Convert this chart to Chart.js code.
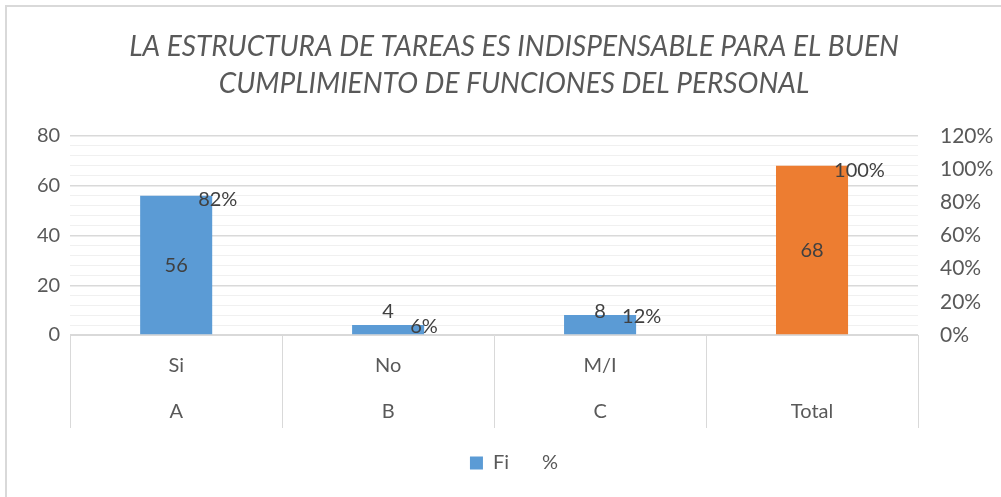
<!DOCTYPE html>
<html>
<head>
<meta charset="utf-8">
<script src="https://cdn.jsdelivr.net/npm/chart.js@4/dist/chart.umd.min.js"></script>
<style>
  html, body { margin: 0; padding: 0; background: #fff; }
  #wrap { position: relative; width: 1001px; height: 497px; }
</style>
</head>
<body>
<div id="wrap"><canvas id="chart" width="1001" height="497"></canvas></div>
<script>
'use strict';

const titleLines = ['LA ESTRUCTURA DE TAREAS ES INDISPENSABLE PARA EL BUEN', 'CUMPLIMIENTO DE FUNCIONES DEL PERSONAL'];
const answers = ['Si', 'No', 'M/I', ''];
const groups = ['A', 'B', 'C', 'Total'];
const fi = [56, 4, 8, 68];
const pct = [0.82, 0.06, 0.12, 1.00];
const leftTicks = [0, 20, 40, 60, 80];
const rightTicks = [0, 0.2, 0.4, 0.6, 0.8, 1.0, 1.2];

const BLUE = '#5B9BD5';
const ORANGE = '#ED7D31';
const TEXT = '#595959';
const FONT = 'Lato';

// outer chart border (only top and left show in the picture)
const frame = {
  id: 'frame',
  beforeDraw(chart) {
    const ctx = chart.ctx;
    ctx.save();
    ctx.strokeStyle = '#d9d9d9';
    ctx.lineWidth = 2;
    ctx.beginPath();
    ctx.moveTo(6, chart.height);
    ctx.lineTo(6, 6);
    ctx.lineTo(chart.width, 6);
    ctx.stroke();
    ctx.restore();
  }
};

// two-level category labels, placed between the long tick lines
const catLabels = {
  id: 'catLabels',
  afterDraw(chart) {
    const ctx = chart.ctx;
    const xs = chart.scales.x;
    const bottom = chart.chartArea.bottom;
    ctx.save();
    ctx.font = '20px ' + FONT;
    ctx.fillStyle = TEXT;
    ctx.textAlign = 'center';
    ctx.textBaseline = 'middle';
    answers.forEach((a, i) => {
      const x = xs.getPixelForValue(i);
      ctx.fillText(a, x, bottom + 31);
      ctx.fillText(groups[i], x, bottom + 77);
    });
    ctx.restore();
  }
};

// data labels like the Excel ones
const valueLabels = {
  id: 'valueLabels',
  afterDatasetsDraw(chart) {
    const ctx = chart.ctx;
    const base = chart.scales.y.getPixelForValue(0);
    ctx.save();
    ctx.font = '20px ' + FONT;
    ctx.fillStyle = '#404040';
    chart.getDatasetMeta(0).data.forEach((bar, i) => {
      ctx.textAlign = 'center';
      if (base - bar.y > 30) {
        ctx.textBaseline = 'middle';
        ctx.fillText(fi[i], bar.x, (bar.y + base) / 2);
      } else {
        ctx.textBaseline = 'bottom';
        ctx.fillText(fi[i], bar.x, base - 13);
      }
    });
    chart.getDatasetMeta(1).data.forEach((pt, i) => {
      ctx.textAlign = 'left';
      ctx.textBaseline = 'middle';
      ctx.fillText(Math.round(pct[i] * 100) + '%', pt.x + 22, pt.y + 1);
    });
    ctx.restore();
  }
};

new Chart('chart', {
  data: {
    labels: groups,
    datasets: [{
      type: 'bar',
      label: 'Fi',
      data: fi,
      backgroundColor: fi.map((v, i) => i === fi.length - 1 ? ORANGE : BLUE),
      borderWidth: 0,
      categoryPercentage: 1,
      barPercentage: 0.34,
      yAxisID: 'y'
    }, {
      type: 'line',
      label: '%',
      data: pct,
      showLine: false,
      pointRadius: 0,
      pointHoverRadius: 0,
      backgroundColor: 'rgba(0,0,0,0)',
      borderColor: 'rgba(0,0,0,0)',
      yAxisID: 'y2'
    }]
  },
  options: {
    responsive: false,
    animation: false,
    events: [],
    layout: { padding: { left: 27, right: 0, top: 0, bottom: 14 } },
    scales: {
      x: {
        offset: true,
        border: { display: true, color: '#d9d9d9', width: 1 },
        grid: {
          offset: true,
          drawOnChartArea: false,
          tickLength: 93,
          color: '#d9d9d9'
        },
        ticks: { display: false },
        afterFit: s => { s.height = 108; }
      },
      y: {
        position: 'left',
        min: 0,
        max: 80,
        border: { display: false },
        grid: {
          drawTicks: false,
          color: c => c.tick.value % 20 === 0 ? '#d9d9d9' : '#f0f0f0',
          lineWidth: c => c.tick.value % 20 === 0 ? 1.5 : 1
        },
        ticks: {
          stepSize: 4,
          maxTicksLimit: 40,
          autoSkip: false,
          padding: 10,
          color: TEXT,
          font: { family: FONT, size: 20 },
          callback: v => leftTicks.includes(v) ? v : ''
        }
      },
      y2: {
        position: 'right',
        min: 0,
        max: 1.2,
        border: { display: false },
        grid: { drawOnChartArea: false, drawTicks: false },
        ticks: {
          stepSize: 0.2,
          autoSkip: false,
          padding: 22,
          color: TEXT,
          font: { family: FONT, size: 21 },
          callback: v => rightTicks.some(t => Math.abs(t - v) < 1e-6) ? Math.round(v * 100) + '%' : ''
        },
        afterFit: s => { s.width = 83; }
      }
    },
    plugins: {
      title: {
        display: true,
        text: titleLines,
        color: TEXT,
        font: { family: FONT, size: 28, style: 'italic', weight: 'normal', lineHeight: '37px' },
        padding: { top: 28, bottom: 34 }
      },
      legend: {
        position: 'bottom',
        labels: {
          color: TEXT,
          boxWidth: 13,
          boxHeight: 13,
          padding: 10,
          font: { family: FONT, size: 20 }
        }
      },
      tooltip: { enabled: false }
    }
  },
  plugins: [frame, catLabels, valueLabels]
});
</script>
</body>
</html>
